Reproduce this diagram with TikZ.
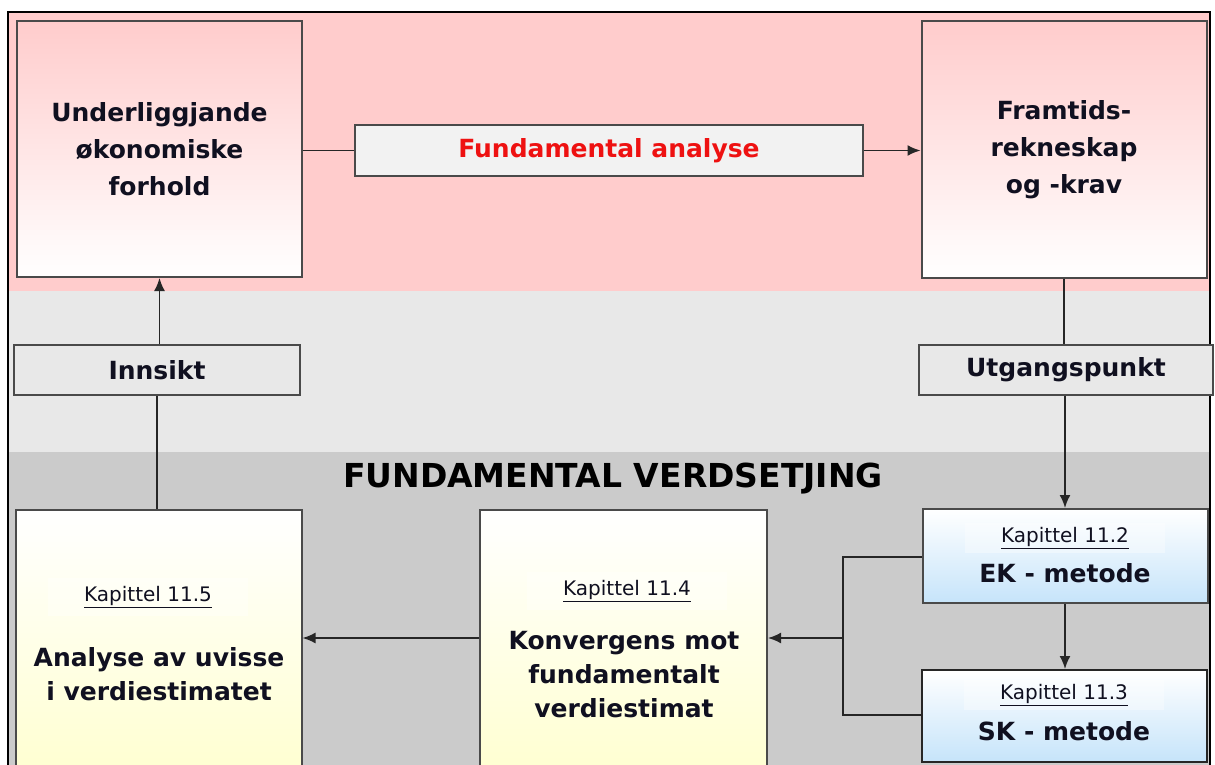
\documentclass[tikz,border=0pt]{standalone}
\usepackage{fontspec}
\setmainfont{DejaVu Sans}
\usetikzlibrary{arrows.meta}
\definecolor{bandpink}{HTML}{FFCCCC}
\definecolor{bandlight}{HTML}{E8E8E8}
\definecolor{banddark}{HTML}{CBCBCB}
\definecolor{boxyellow}{HTML}{FFFFCC}
\definecolor{boxblue}{HTML}{C6E4FA}
\definecolor{labelred}{HTML}{EE1111}
\definecolor{edgegrey}{HTML}{4A4A4A}
\definecolor{textdark}{HTML}{101020}

\begin{document}
\begin{tikzpicture}[x=1pt,y=-1pt,
  box/.style={draw=edgegrey, line width=2pt, inner sep=0pt, align=center,
    text=textdark, font=\bfseries\fontsize{25}{37}\selectfont},
  pinkbox/.style={box, top color=bandpink, bottom color=white,
    minimum width=285pt, minimum height=256pt},
  tagbox/.style={box, minimum height=50pt},
  yellowbox/.style={box, top color=white, bottom color=boxyellow,
    minimum width=286pt, minimum height=290pt},
  bluebox/.style={box, top color=white, bottom color=boxblue,
    minimum width=285pt, minimum height=94pt},
  kap/.style={font=\fontsize{20}{22}\selectfont, text=textdark,
    fill=white, fill opacity=0.35, text opacity=1, inner xsep=36pt, inner ysep=8pt},
  main/.style={font=\bfseries\fontsize{25}{34}\selectfont, text=textdark, align=center},
  conn/.style={line width=1.8pt, draw=black!85},
  arr/.style={conn, -{Latex[length=13pt,width=11pt]}},
]
\useasboundingbox (0,0) rectangle (1215,765);

% background bands
\fill[bandpink]  (8,12)  rectangle (1210,291);
\fill[bandlight] (8,291) rectangle (1210,452);
\fill[banddark]  (8,452) rectangle (1210,800);
\draw[line width=2pt] (8,800) -- (8,12) -- (1210,12) -- (1210,800);

% upper row
\node[pinkbox] (und) at (159.5,149) {Underliggjande\\økonomiske\\forhold};
\node[pinkbox] (fram) at (1064,149.5) {Framtids-\\rekneskap\\og -krav};
\node[tagbox, fill=white!95!black, minimum width=508pt, text=labelred] (fa) at (609,150.5) {Fundamental analyse};

% middle row
\node[tagbox, fill=bandlight, minimum width=286pt] (inn) at (157,370) {Innsikt};
\node[tagbox, fill=bandlight, minimum width=294pt] (utg) at (1066,369.5) {Utgangspunkt};

% lower section
\node[font=\bfseries\fontsize{33}{36}\selectfont, text=black] (title) at (613,479) {FUNDAMENTAL VERDSETJING};

\node[yellowbox] (ana) at (158.5,655) {};
\node[kap] (kap5) at (148,597) {\underline{Kapittel 11.5}};
\node[main] (anatxt) at (159,674) {Analyse av uvisse\\i verdiestimatet};

\node[yellowbox, minimum width=287pt] (konv) at (623.5,655) {};
\node[kap] (kap4) at (627,591) {\underline{Kapittel 11.4}};
\node[main] (konvtxt) at (624,675) {Konvergens mot\\fundamentalt\\verdiestimat};

\node[bluebox] (ek) at (1065,556) {};
\node[kap, inner ysep=4pt] (kap2) at (1065,538) {\underline{Kapittel 11.2}};
\node[main] (ektxt) at (1065,573) {EK - metode};

\node[bluebox, draw=black!85, minimum height=92pt] (sk) at (1064.5,716) {};
\node[kap, inner ysep=4pt] (kap3) at (1064,695) {\underline{Kapittel 11.3}};
\node[main] (sktxt) at (1064,731) {SK - metode};

% connectors
\draw[conn] (und.east |- fa.west) -- (fa.west);
\draw[arr] (fa.east) -- (fram.west |- fa.east);
\draw[conn] (fram.south) -- (utg.north -| fram.south);
\draw[arr] (utg.south -| ek.north) -- (ek.north);
\draw[arr] (ek.south) -- (sk.north -| ek.south);
\coordinate (join) at (843,638);
\draw[conn] (ek.west |- 0,557) -| (join) |- (sk.west |- 0,715);
\draw[arr] (join) -- (konv.east |- join);
\draw[arr] (konv.west |- join) -- (ana.east |- join);
\draw[conn] (ana.north -| inn.south) -- (inn.south);
\draw[arr] (inn.north -| und.south) -- (und.south);
\end{tikzpicture}
\end{document}
